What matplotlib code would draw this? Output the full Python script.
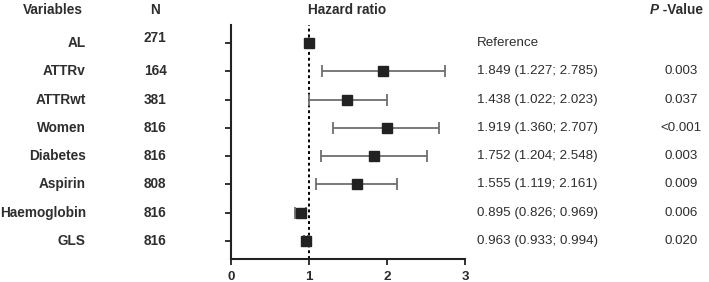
import matplotlib
matplotlib.use('Agg')
import matplotlib.pyplot as plt
import matplotlib.transforms as mtransforms
import numpy as np

plt.rcParams['font.family'] = ['Liberation Sans', 'DejaVu Sans']

# rows, top to bottom
variables = ['AL', 'ATTRv', 'ATTRwt', 'Women', 'Diabetes', 'Aspirin', 'Haemoglobin', 'GLS']
n_vals = ['271', '164', '381', '816', '816', '808', '816', '816']
# plotted hazard ratios and CI limits (as drawn)
hr = [1.0, 1.95, 1.48, 2.0, 1.83, 1.61, 0.89, 0.96]
ci_low = [1.0, 1.16, 1.0, 1.31, 1.15, 1.09, 0.82, 0.93]
ci_high = [1.0, 2.74, 2.0, 2.67, 2.51, 2.13, 0.96, 0.99]
hr_text = ['Reference', '1.849 (1.227; 2.785)', '1.438 (1.022; 2.023)', '1.919 (1.360; 2.707)',
           '1.752 (1.204; 2.548)', '1.555 (1.119; 2.161)', '0.895 (0.826; 0.969)',
           '0.963 (0.933; 0.994)']
p_text = ['', '0.003', '0.037', '<0.001', '0.003', '0.009', '0.006', '0.020']

fig = plt.figure(figsize=(7.09, 2.82), dpi=100)
ax = fig.add_axes([0.326, 0.082, 0.330, 0.829])

y = np.arange(len(variables))
hr_a = np.array(hr)
err = [hr_a - np.array(ci_low), np.array(ci_high) - hr_a]

ax.axvline(1, color='black', linestyle=(0, (1.5, 1.5)), linewidth=1.4, zorder=1)
ax.errorbar(hr, y, xerr=err, fmt='none', ecolor='#6e6e6e', elinewidth=1.3,
            capsize=4, capthick=1.3, zorder=2)
ax.plot(hr, y, 's', color='#222222', markersize=7.8, zorder=3)

ax.set_xlim(0, 3)
ax.set_ylim(len(variables) - 1 + 0.64, -0.64)
ax.set_xticks([0, 1, 2, 3])
ax.set_yticks(y)
ax.set_yticklabels([])
ax.tick_params(axis='both', length=4, width=1.3, color='#222222')
ax.tick_params(axis='x', pad=5)
for lab in ax.get_xticklabels():
    lab.set_fontweight('bold')
    lab.set_fontsize(9.7)
    lab.set_color('#2a2a2a')
for s in ['top', 'right']:
    ax.spines[s].set_visible(False)
for s in ['left', 'bottom']:
    ax.spines[s].set_linewidth(1.5)
    ax.spines[s].set_color('#222222')

tc = '#2e2e2e'
trans = mtransforms.blended_transform_factory(fig.transFigure, ax.transData)
for i in range(len(variables)):
    ax.text(0.121, i, variables[i], transform=trans, ha='right', va='center',
            fontsize=9.8, fontweight='bold', color=tc)
    dy = -0.18 if i == 0 else 0
    ax.text(0.219, i + dy, n_vals[i], transform=trans, ha='center', va='center',
            fontsize=9.8, fontweight='bold', color=tc)
    ax.text(0.673, i, hr_text[i], transform=trans, ha='left', va='center',
            fontsize=9.6, color=tc)
    ax.text(0.961, i, p_text[i], transform=trans, ha='center', va='center',
            fontsize=9.6, color=tc)

# headers
fig.text(0.117, 0.965, 'Variables', ha='right', va='center', fontsize=9.8,
         fontweight='bold', color=tc)
fig.text(0.219, 0.965, 'N', ha='center', va='center', fontsize=9.8,
         fontweight='bold', color=tc)
fig.text(0.49, 0.965, 'Hazard ratio', ha='center', va='center', fontsize=9.8,
         fontweight='bold', color=tc)
fig.text(0.929, 0.965, 'P', ha='right', va='center',
         fontsize=9.8, fontweight='bold', fontstyle='italic', color=tc)
fig.text(0.929, 0.965, ' -Value', ha='left', va='center', fontsize=9.8,
         fontweight='bold', color=tc)

fig.savefig('out.png', dpi=100)
